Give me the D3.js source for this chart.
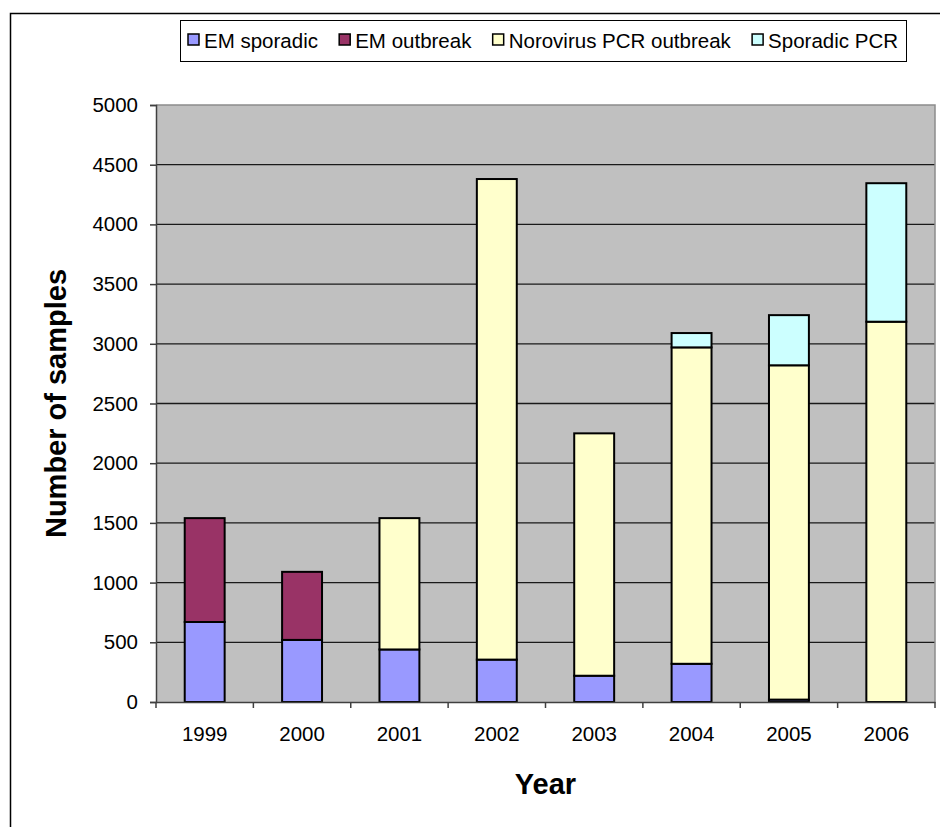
<!DOCTYPE html>
<html>
<head>
<meta charset="utf-8">
<script src="https://cdn.jsdelivr.net/npm/d3@7"></script>
<style>
	body {margin:0; background:#fff;}
	svg {display:block; font-family:'Liberation Sans', Arial, sans-serif;}
	.grid line {stroke:#1a1a1a; stroke-width:1.3;}
	.axis path, .axis line {stroke:#404040; stroke-width:1.5;}
	.axis text {fill:#000; font-size:20.5px;}
	.seg {stroke:#000; stroke-width:2;}
	.title {font-weight:bold; font-size:29px;}
	.legend text {font-size:20.5px;}
</style>
</head>
<body>
<div id="graphic"></div>
<script>

// data
var years = ['1999', '2000', '2001', '2002', '2003', '2004', '2005', '2006'];
var seriesNames = ['EM sporadic', 'EM outbreak', 'Norovirus PCR outbreak', 'Sporadic PCR'];
var seriesColors = ['#9999ff', '#993366', '#ffffcc', '#ccffff'];

var emSporadic = [670, 520, 440, 355, 220, 320, 20, 0];
var emOutbreak = [870, 570, 0, 0, 0, 0, 0, 0];
var noroPCR = [0, 0, 1100, 4025, 2030, 2650, 2800, 3185];
var sporadicPCR = [0, 0, 0, 0, 0, 120, 420, 1160];

var yTicks = [0, 500, 1000, 1500, 2000, 2500, 3000, 3500, 4000, 4500, 5000];

renderGraphic({
	container: 'graphic',
	width: 940,
	height: 827
});

function renderGraphic(config) {

	var width = config.width,
		height = config.height;

	var plot = {left: 156, right: 935, top: 105, bottom: 702};

	var svg = d3.select('#' + config.container).append('svg')
		.attr('width', width)
		.attr('height', height);

	// outer chart frame (runs off right and bottom like the original)
	svg.append('rect')
		.attr('x', 10.5).attr('y', 13.5)
		.attr('width', width + 20).attr('height', height + 20)
		.attr('fill', '#fff')
		.attr('stroke', '#000')
		.attr('stroke-width', 1.5);

	// table for d3.stack
	var table = years.map(function(y, i) {
		var row = {year: y};
		row[seriesNames[0]] = emSporadic[i];
		row[seriesNames[1]] = emOutbreak[i];
		row[seriesNames[2]] = noroPCR[i];
		row[seriesNames[3]] = sporadicPCR[i];
		return row;
	});

	var stacked = d3.stack().keys(seriesNames)(table);

	var x = d3.scaleBand()
		.domain(years)
		.range([plot.left, plot.right])
		.paddingInner(0.59)
		.paddingOuter(0.295);

	var y = d3.scaleLinear()
		.domain([0, 5000])
		.range([plot.bottom, plot.top]);

	var color = d3.scaleOrdinal().domain(seriesNames).range(seriesColors);

	// 1. plot background + gridlines
	svg.append('rect')
		.attr('x', plot.left).attr('y', plot.top)
		.attr('width', plot.right - plot.left)
		.attr('height', plot.bottom - plot.top)
		.attr('fill', '#c0c0c0');

	svg.append('g')
		.attr('class', 'grid')
		.selectAll('line')
		.data(yTicks.filter(function(d) {return d > 0 && d < 5000;}))
		.enter().append('line')
		.attr('x1', plot.left).attr('x2', plot.right)
		.attr('y1', function(d) {return y(d);})
		.attr('y2', function(d) {return y(d);});

	// light border on top and right of plot area
	svg.append('path')
		.attr('d', 'M' + plot.left + ',' + y(5000) + 'H' + plot.right + 'V' + plot.bottom)
		.attr('fill', 'none')
		.attr('stroke', '#8c8c8c')
		.attr('stroke-width', 1.5);

	// 2. stacked bars
	var layers = svg.append('g').attr('class', 'bars')
		.selectAll('g')
		.data(stacked).enter()
		.append('g')
		.attr('fill', function(d) {return color(d.key);});

	layers.selectAll('rect')
		.data(function(d) {return d.filter(function(p) {return p[1] - p[0] > 0;});})
		.enter().append('rect')
		.attr('class', 'seg')
		.attr('x', function(d) {return x(d.data.year);})
		.attr('width', x.bandwidth())
		.attr('y', function(d) {return y(d[1]);})
		.attr('height', function(d) {return y(d[0]) - y(d[1]);});

	// 3. axes
	svg.append('g')
		.attr('class', 'axis axis-y')
		.attr('transform', 'translate(' + plot.left + ',0)')
		.call(d3.axisLeft(y)
			.tickValues(yTicks)
			.tickSize(6)
			.tickPadding(12)
			.tickFormat(function(d) {return d;}));

	var xAxis = svg.append('g')
		.attr('class', 'axis axis-x')
		.attr('transform', 'translate(0,' + plot.bottom + ')')
		.call(d3.axisBottom(x).tickSize(0).tickPadding(24));

	// excel puts the x ticks between categories
	xAxis.selectAll('.sep')
		.data(d3.range(years.length + 1))
		.enter().append('line')
		.attr('class', 'sep')
		.attr('x1', function(i) {return plot.left + i * x.step();})
		.attr('x2', function(i) {return plot.left + i * x.step();})
		.attr('y1', 0).attr('y2', 6);

	svg.selectAll('.axis .domain')
		.attr('stroke', '#404040')
		.attr('stroke-width', 2);

	// 4. titles
	svg.append('text')
		.attr('class', 'title')
		.attr('x', (plot.left + plot.right) / 2)
		.attr('y', 794)
		.attr('text-anchor', 'middle')
		.text('Year');

	svg.append('text')
		.attr('class', 'title')
		.attr('transform', 'translate(66,' + ((plot.top + plot.bottom) / 2) + ') rotate(-90)')
		.attr('text-anchor', 'middle')
		.text('Number of samples');

	// 5. legend
	var lg = {left: 180.5, top: 20.5, right: 906.5, bottom: 61.5};
	var legend = svg.append('g').attr('class', 'legend');

	legend.append('rect')
		.attr('x', lg.left).attr('y', lg.top)
		.attr('width', lg.right - lg.left)
		.attr('height', lg.bottom - lg.top)
		.attr('fill', '#fff')
		.attr('stroke', '#000')
		.attr('stroke-width', 1);

	var items = legend.selectAll('g.item')
		.data(seriesNames).enter()
		.append('g')
		.attr('class', 'item');

	items.append('rect')
		.attr('width', 11).attr('height', 11)
		.attr('y', 34)
		.attr('fill', function(d) {return color(d);})
		.attr('stroke', '#000')
		.attr('stroke-width', 1.5);

	items.append('text')
		.attr('x', 16)
		.attr('y', 47.5)
		.text(function(d) {return d;});

	// spread items across the box
	var widths = [];
	items.select('text').each(function() {widths.push(16 + this.getComputedTextLength());});
	var startX = 188, endX = 898;
	var gap = (endX - startX - d3.sum(widths)) / (widths.length - 1);
	var pos = startX;
	items.attr('transform', function(d, i) {
		var t = 'translate(' + pos + ',0)';
		pos += widths[i] + gap;
		return t;
	});

} // end of renderGraphic()

</script>
</body>
</html>
